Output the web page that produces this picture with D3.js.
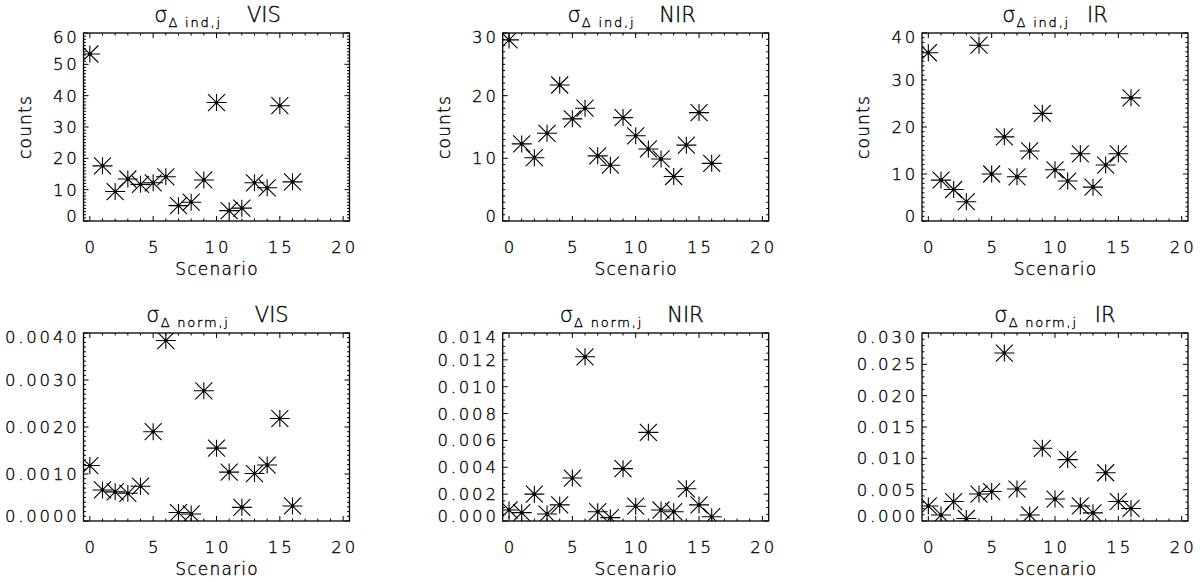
<!DOCTYPE html>
<html>
<head>
<meta charset="utf-8">
<script src="https://cdn.jsdelivr.net/npm/d3@7"></script>
<style>
  body { margin: 0; background: #fff; }
  text { font-family: "DejaVu Sans", sans-serif; font-weight: 200; fill: #000; stroke: #000; stroke-width: 0.35px; }
</style>
</head>
<body>
<svg id="chart" width="1204" height="582"></svg>
<script>
// scenario index on the x axis
const scenarios = [0, 1, 2, 3, 4, 5, 6, 7, 8, 9, 10, 11, 12, 13, 14, 15, 16];

// sigma_delta ind,j (counts)
const indVIS = [53.3, 17.6, 9.4, 13.4, 11.7, 12.2, 14.1, 4.9, 6.0, 13.1, 37.8, 3.3, 4.1, 12.2, 10.6, 36.8, 12.5];
const indNIR = [28.9, 12.3, 10.1, 14.0, 21.7, 16.3, 18.0, 10.4, 8.9, 16.5, 13.6, 11.5, 9.9, 7.1, 12.1, 17.3, 9.2];
const indIR  = [35.8, 8.7, 6.7, 4.1, 37.4, 10.0, 17.9, 9.4, 14.9, 22.9, 10.9, 8.5, 14.3, 7.2, 11.9, 14.3, 26.2];

// sigma_delta norm,j
const normVIS = [0.00118, 0.00066, 0.00062, 0.00059, 0.00074, 0.0019, 0.00384, 0.00018, 0.00015, 0.00277,
                 0.00155, 0.00104, 0.00029, 0.00101, 0.00119, 0.00218, 0.00032];
const normNIR = [0.00082, 0.00062, 0.0020, 0.00052, 0.0012, 0.0032, 0.01223, 0.00069, 0.00025, 0.0039,
                 0.0011, 0.0066, 0.00082, 0.00069, 0.0024, 0.0012, 0.00032];
const normIR  = [0.0024, 0.00096, 0.0031, 0.0004, 0.0043, 0.0047, 0.0268, 0.0051, 0.00096, 0.0116,
                 0.0035, 0.0098, 0.0024, 0.0013, 0.0077, 0.0031, 0.0020];

const bands = ['VIS', 'NIR', 'IR'];
const xTicks = [0, 5, 10, 15, 20];

const panels = [
  { vals: indVIS,  band: 0, row: 0, sub: 'Δ ind,j',  yMax: 60,    major: 10,    minor: 1,      fmt: d3.format('d'),    gap: 25 },
  { vals: indNIR,  band: 1, row: 0, sub: 'Δ ind,j',  yMax: 30,    major: 10,    minor: 1,      fmt: d3.format('d'),    gap: 24 },
  { vals: indIR,   band: 2, row: 0, sub: 'Δ ind,j',  yMax: 40,    major: 10,    minor: 1,      fmt: d3.format('d'),    gap: 17 },
  { vals: normVIS, band: 0, row: 1, sub: 'Δ norm,j', yMax: 0.004, major: 0.001, minor: 0.0001, fmt: d3.format('.4f'), gap: 25 },
  { vals: normNIR, band: 1, row: 1, sub: 'Δ norm,j', yMax: 0.014, major: 0.002, minor: 0.0005, fmt: d3.format('.3f'), gap: 24 },
  { vals: normIR,  band: 2, row: 1, sub: 'Δ norm,j', yMax: 0.030, major: 0.005, minor: 0.001,  fmt: d3.format('.3f'), gap: 17 }
];

// layout
const colLeft = [83.5, 502.7, 922];
const rowTop = [33, 333];
const titleShift = [1, -4, 0];
const w = 266, h = 188;

const svg = d3.select('#chart');

panels.forEach((p, i) => {
  const g = svg.append('g')
    .attr('transform', `translate(${colLeft[p.band]}, ${rowTop[p.row]})`);

  const x = d3.scaleLinear().domain([-0.5, 20.5]).range([0, w]);
  const y = d3.scaleLinear().domain([0, p.yMax]).range([h, 0]);

  const majorY = d3.range(0, p.yMax + p.major / 2, p.major);
  const minorY = d3.range(0, p.yMax + p.minor / 2, p.minor);
  const minorX = d3.range(0, 21, 1);

  // ticks (inward on all four sides)
  const ticks = g.append('g').attr('stroke', '#000').attr('stroke-width', 1);
  minorX.forEach(v => {
    const len = v % 5 === 0 ? 5 : 2.5;
    ticks.append('line').attr('x1', x(v)).attr('x2', x(v)).attr('y1', h).attr('y2', h - len);
    ticks.append('line').attr('x1', x(v)).attr('x2', x(v)).attr('y1', 0).attr('y2', len);
  });
  minorY.forEach(v => {
    const isMajor = Math.abs(v / p.major - Math.round(v / p.major)) < 1e-6;
    const len = isMajor ? 5 : 2.5;
    ticks.append('line').attr('x1', 0).attr('x2', len).attr('y1', y(v)).attr('y2', y(v));
    ticks.append('line').attr('x1', w).attr('x2', w - len).attr('y1', y(v)).attr('y2', y(v));
  });

  // frame
  g.append('rect').attr('width', w).attr('height', h)
    .attr('fill', 'none').attr('stroke', '#000').attr('stroke-width', 1.3);

  // y tick labels (end labels pulled inside the frame a little)
  g.selectAll('.ylab').data(majorY).enter().append('text')
    .attr('class', 'ylab')
    .attr('x', -4)
    .attr('y', (d, k) => y(d) + (k === 0 ? -4.5 : (k === majorY.length - 1 ? 4.5 : 0)))
    .attr('dy', '0.36em')
    .attr('text-anchor', 'end')
    .attr('font-size', 16.5)
    .attr('letter-spacing', 2.8)
    .text(d => p.fmt(d));

  // x tick labels
  g.selectAll('.xlab').data(xTicks).enter().append('text')
    .attr('class', 'xlab')
    .attr('x', d => x(d) + 1.5)
    .attr('y', h + 31.5)
    .attr('text-anchor', 'middle')
    .attr('font-size', 16.5)
    .attr('letter-spacing', 3)
    .text(d => d);

  g.append('text')
    .attr('x', w / 2 + 0.5).attr('y', h + 53.5)
    .attr('text-anchor', 'middle')
    .attr('font-size', 17)
    .attr('letter-spacing', 1.2)
    .text('Scenario');

  if (p.row === 0) {
    g.append('text')
      .attr('transform', `translate(-53, ${h / 2}) rotate(-90)`)
      .attr('text-anchor', 'middle')
      .attr('font-size', 17)
      .attr('letter-spacing', 1.2)
      .text('counts');
  }

  // title: sigma with subscript, then band name
  const t = g.append('text')
    .attr('x', w / 2 + titleShift[p.band]).attr('y', -11.5)
    .attr('text-anchor', 'middle');
  t.append('tspan').attr('font-size', 21).text('σ');
  t.append('tspan').attr('font-size', 13).attr('dy', 5).attr('dx', 1).attr('letter-spacing', 1.8).text(p.sub);
  t.append('tspan').attr('font-size', 21).attr('dy', -5).attr('dx', p.gap).text(bands[p.band]);

  // asterisk markers, clipped to the frame
  const clipId = 'clip' + i;
  g.append('clipPath').attr('id', clipId)
    .append('rect').attr('width', w).attr('height', h);

  const pts = g.append('g').attr('clip-path', `url(#${clipId})`);
  const star = 'M-10,0H10M0,-8.5V8.5M-8.5,-8.5L8.5,8.5M-8.5,8.5L8.5,-8.5';
  pts.selectAll('path').data(scenarios).enter().append('path')
    .attr('transform', (s, k) => `translate(${x(s)}, ${y(p.vals[k])})`)
    .attr('d', star)
    .attr('fill', 'none')
    .attr('stroke', '#000')
    .attr('stroke-width', 1.1);
  pts.selectAll('circle').data(scenarios).enter().append('circle')
    .attr('cx', s => x(s))
    .attr('cy', (s, k) => y(p.vals[k]))
    .attr('r', 1.8)
    .attr('fill', '#000');
});
</script>
</body>
</html>
